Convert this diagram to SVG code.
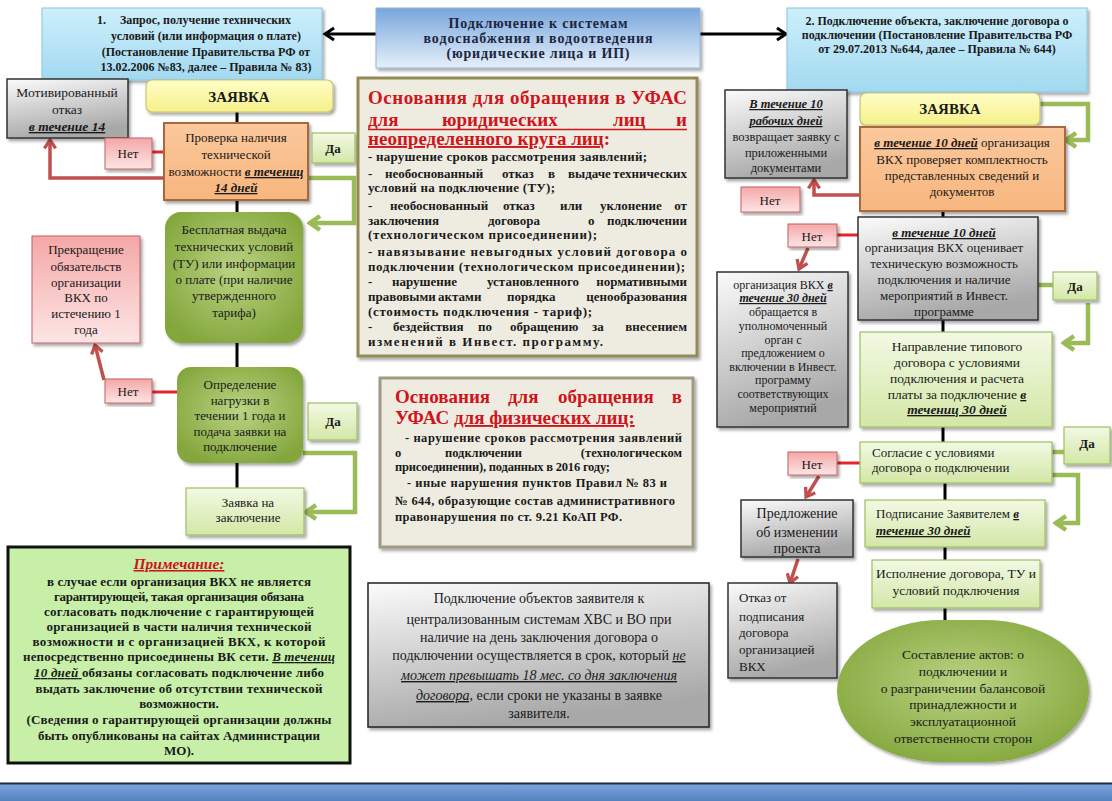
<svg xmlns="http://www.w3.org/2000/svg" width="1112" height="801" viewBox="0 0 1112 801">
<defs>
<linearGradient id="gBlue" x1="0" y1="0" x2="0" y2="1"><stop offset="0" stop-color="#cdeffb"/><stop offset="1" stop-color="#a2d9f0"/></linearGradient>
<linearGradient id="gTop" x1="0" y1="0" x2="0" y2="1"><stop offset="0" stop-color="#77a5dc"/><stop offset="1" stop-color="#e6f0fa"/></linearGradient>
<linearGradient id="gYel" x1="0" y1="0" x2="0" y2="1"><stop offset="0" stop-color="#fefec6"/><stop offset="1" stop-color="#f6f08a"/></linearGradient>
<linearGradient id="gOrg" x1="0" y1="0" x2="0" y2="1"><stop offset="0" stop-color="#fbc89c"/><stop offset="1" stop-color="#f7b67e"/></linearGradient>
<linearGradient id="gPink" x1="0" y1="0" x2="0" y2="1"><stop offset="0" stop-color="#f4a7a7"/><stop offset="1" stop-color="#fde5e5"/></linearGradient>
<linearGradient id="gLG" x1="0" y1="0" x2="0" y2="1"><stop offset="0" stop-color="#f2f9e4"/><stop offset="1" stop-color="#d3e7a6"/></linearGradient>
<radialGradient id="gDG" cx="0.5" cy="0.45" r="0.6"><stop offset="0" stop-color="#bad383"/><stop offset="1" stop-color="#84a73d"/></radialGradient>
<linearGradient id="gGray" x1="0" y1="0" x2="0.3" y2="1"><stop offset="0" stop-color="#fbfbfb"/><stop offset="1" stop-color="#a8a8a8"/></linearGradient>
<linearGradient id="gBar" x1="0" y1="0" x2="0" y2="1"><stop offset="0" stop-color="#7ba4dd"/><stop offset="1" stop-color="#5681c2"/></linearGradient>
<filter id="sh" x="-10%" y="-10%" width="125%" height="125%"><feDropShadow dx="2" dy="2.5" stdDeviation="1.5" flood-color="#000" flood-opacity="0.35"/></filter>
<marker id="ak" viewBox="0 0 16 16" refX="13" refY="8" markerWidth="16" markerHeight="16" markerUnits="userSpaceOnUse" orient="auto"><path d="M4,2 L13,8 L4,14" fill="none" stroke="#000" stroke-width="3"/></marker>
<marker id="ar" viewBox="0 0 16 16" refX="13" refY="8" markerWidth="15" markerHeight="15" markerUnits="userSpaceOnUse" orient="auto"><path d="M4,2 L13,8 L4,14" fill="none" stroke="#c0504d" stroke-width="3.5"/></marker>
<marker id="ag" viewBox="0 0 18 18" refX="15" refY="9" markerWidth="18" markerHeight="18" markerUnits="userSpaceOnUse" orient="auto"><path d="M5,2 L15,9 L5,16" fill="none" stroke="#9bbb59" stroke-width="4.5"/></marker>
<style>
.t{font-family:"Liberation Serif","Times New Roman",serif;font-size:13px;fill:#1a1a1a}
.c{text-anchor:middle}
.e{text-anchor:end}
.b{font-weight:bold}
.d{font-weight:bold;font-style:italic;text-decoration:underline}
.iu{font-style:italic;text-decoration:underline}
.u{text-decoration:underline}
.red{fill:#d0141c}
.f12{font-size:12px}
.f125{font-size:12.5px}
.f135{font-size:13.5px}
.f14{font-size:14px}
.f15{font-size:15px}
.f155{font-size:15.5px}
.f19{font-size:19px}
.bx-blue{fill:url(#gBlue);stroke:#8cc4dc;stroke-width:1;filter:url(#sh)}
.bx-top{fill:url(#gTop);stroke:#93b3d8;stroke-width:1;filter:url(#sh)}
.bx-yel{fill:url(#gYel);stroke:#c8c27a;stroke-width:1.2;filter:url(#sh)}
.bx-org{fill:url(#gOrg);stroke:#a5693a;stroke-width:2;filter:url(#sh)}
.bx-pink{fill:url(#gPink);stroke:#c46060;stroke-width:1;filter:url(#sh)}
.bx-lg{fill:url(#gLG);stroke:#9fbe62;stroke-width:1.2;filter:url(#sh)}
.bx-dg{fill:url(#gDG);filter:url(#sh)}
.bx-gray{fill:url(#gGray);stroke:#333;stroke-width:1.5;filter:url(#sh)}
.bx-ufas{fill:#eeece1;stroke:#948a54;stroke-width:3;filter:url(#sh)}
.bx-note{fill:#c7efa8;stroke:#111;stroke-width:3}
.k{stroke:#000;stroke-width:3;fill:none}
.r{stroke:#c0504d;stroke-width:3.5;fill:none}
.rr{stroke:#e3262b;stroke-width:3;fill:none}
.g{stroke:#9bbb59;stroke-width:4.5;fill:none}
</style>
</defs>
<rect width="1112" height="801" fill="#fff"/>

<g id="connectors">
<line class="k" x1="376" y1="34" x2="325" y2="34" marker-end="url(#ak)"/>
<line class="k" x1="700" y1="34" x2="786" y2="34" marker-end="url(#ak)"/>
<line class="k" x1="237" y1="112" x2="237" y2="123"/>
<line class="rr" x1="152" y1="152" x2="164" y2="152"/>
<polyline class="r" points="164,178 50,178 50,140" marker-end="url(#ar)"/>
<polyline class="g" points="308,178 354,178 354,223 310,223" marker-end="url(#ag)"/>
<line class="k" x1="237" y1="200" x2="237" y2="212"/>
<line class="k" x1="237" y1="343" x2="237" y2="367"/>
<line class="rr" x1="152" y1="392" x2="177" y2="392"/>
<line class="r" x1="104" y1="380" x2="95" y2="345" marker-end="url(#ar)"/>
<polyline class="g" points="303,453 355,453 355,512 306,512" marker-end="url(#ag)"/>
<line class="k" x1="237" y1="463" x2="237" y2="488"/>

<polyline class="g" points="1040,104 1088,104 1088,140 1066,140" marker-end="url(#ag)"/>
<polyline class="r" points="860,195 814,195 814,180" marker-end="url(#ar)"/>
<line class="k" x1="943" y1="211" x2="943" y2="218"/>
<line class="rr" x1="837" y1="235" x2="858" y2="235"/>
<line class="r" x1="808" y1="248" x2="799" y2="269" marker-end="url(#ar)"/>
<line class="g" x1="1038" y1="285" x2="1053" y2="285"/>
<polyline class="g" points="1088,303 1088,343 1064,343" marker-end="url(#ag)"/>
<line class="k" x1="943" y1="320" x2="943" y2="332"/>
<line class="k" x1="943" y1="427" x2="943" y2="442"/>
<line class="g" x1="1052" y1="452" x2="1064" y2="452"/>
<polyline class="g" points="1052,475 1078,475 1078,523 1056,523" marker-end="url(#ag)"/>
<line class="rr" x1="837" y1="463" x2="860" y2="463"/>
<line class="r" x1="819" y1="476" x2="806" y2="497" marker-end="url(#ar)"/>
<line class="k" x1="945" y1="483" x2="945" y2="500"/>
<line class="k" x1="945" y1="547" x2="945" y2="560"/>
<line class="r" x1="798" y1="559" x2="790" y2="583" marker-end="url(#ar)"/>
<line class="k" x1="945" y1="608" x2="945" y2="622"/>
</g>

<g id="n-req1">
<rect class="bx-blue" x="42" y="8" width="280" height="72"/>
<text class="t b f12"><tspan x="97" y="24">1.</tspan><tspan x="120" y="24">Запрос, получение технических</tspan></text>
<text class="t b c f12"><tspan x="206" y="40">условий (или информация о плате)</tspan><tspan x="206" y="56">(Постановление Правительства РФ от</tspan><tspan x="206" y="71">13.02.2006 №83, далее – Правила № 83)</tspan></text>
</g>

<g id="n-title">
<rect class="bx-top" x="376" y="8" width="324" height="60"/>
<g class="t b c f14" style="fill:#1d2640">
<text x="538" y="28" textLength="179" lengthAdjust="spacing">Подключение к системам</text>
<text x="538" y="43" textLength="229" lengthAdjust="spacing">водоснабжения и водоотведения</text>
<text x="538" y="58" textLength="183" lengthAdjust="spacing">(юридические лица и ИП)</text>
</g>
</g>

<g id="n-req2">
<rect class="bx-blue" x="787" y="8" width="300" height="84"/>
<text class="t b c f12"><tspan x="937" y="25">2. Подключение объекта, заключение договора о</tspan><tspan x="937" y="39">подключении (Постановление Правительства РФ</tspan><tspan x="937" y="53">от 29.07.2013 №644, далее – Правила № 644)</tspan></text>
</g>

<g id="n-refusal">
<rect class="bx-gray" x="7" y="79" width="121" height="59"/>
<text class="t c f135"><tspan x="67" y="97">Мотивированный</tspan><tspan x="67" y="114">отказ</tspan><tspan x="67" y="131" class="d">в течение 14</tspan></text>
</g>

<g id="n-zayavka1">
<rect class="bx-yel" x="146" y="80" width="187" height="32" rx="6"/>
<text class="t b c f15" x="239" y="102">ЗАЯВКА</text>
</g>

<g id="n-check">
<rect class="bx-org" x="164" y="123" width="144" height="77"/>
<text class="t c"><tspan x="236" y="142">Проверка наличия</tspan><tspan x="236" y="159">технической</tspan><tspan x="236" y="176">возможности <tspan class="d">в течениц</tspan></tspan><tspan x="236" y="192" class="d">14 дней</tspan></text>
</g>

<g id="n-net1">
<rect class="bx-pink" x="105" y="138" width="47" height="31"/>
<text class="t c" x="128" y="158">Нет</text>
</g>

<g id="n-da1">
<rect class="bx-lg" x="312" y="133" width="43" height="30"/>
<text class="t b c" x="333" y="153">Да</text>
</g>

<g id="n-free">
<rect class="bx-dg" x="165" y="212" width="138" height="131" rx="16"/>
<text class="t c"><tspan x="234" y="234">Бесплатная выдача</tspan><tspan x="234" y="251">технических условий</tspan><tspan x="234" y="268">(ТУ) или информации</tspan><tspan x="234" y="284">о плате (при наличие</tspan><tspan x="234" y="300">утвержденного</tspan><tspan x="234" y="317">тарифа)</tspan></text>
</g>

<g id="n-stop">
<rect class="bx-pink" x="32" y="236" width="108" height="107"/>
<text class="t c"><tspan x="86" y="254">Прекращение</tspan><tspan x="86" y="271">обязательств</tspan><tspan x="86" y="287">организации</tspan><tspan x="86" y="302">ВКХ по</tspan><tspan x="86" y="318">истечению 1</tspan><tspan x="86" y="334">года</tspan></text>
</g>

<g id="n-load">
<rect class="bx-dg" x="177" y="367" width="126" height="96" rx="14"/>
<text class="t c"><tspan x="240" y="389">Определение</tspan><tspan x="240" y="405">нагрузки в</tspan><tspan x="240" y="420">течении 1 года и</tspan><tspan x="240" y="436">подача заявки на</tspan><tspan x="240" y="451">подключение</tspan></text>
</g>

<g id="n-net2">
<rect class="bx-pink" x="105" y="379" width="47" height="24"/>
<text class="t c" x="128" y="396">Нет</text>
</g>

<g id="n-da2">
<rect class="bx-lg" x="308" y="403" width="49" height="37"/>
<text class="t b c" x="333" y="426">Да</text>
</g>

<g id="n-conclusion">
<rect class="bx-lg" x="186" y="488" width="118" height="47"/>
<text class="t c"><tspan x="248" y="507">Заявка на</tspan><tspan x="248" y="522">заключение</tspan></text>
</g>

<g id="n-note">
<rect class="bx-note" x="8" y="547" width="342" height="216"/>
<text class="t b c red f155" x="179" y="569"><tspan class="iu">Примечание:</tspan></text>
<g class="t b c">
<text x="179" y="586" textLength="264" lengthAdjust="spacing">в случае если организация ВКХ не является</text>
<text x="179" y="601" textLength="250" lengthAdjust="spacing">гарантирующей, такая организация обязана</text>
<text x="179" y="616" textLength="270" lengthAdjust="spacing">согласовать  подключение с гарантирующей</text>
<text x="179" y="631" textLength="265" lengthAdjust="spacing">организацией в части наличия технической</text>
<text x="179" y="646" textLength="293" lengthAdjust="spacing">возможности и с организацией ВКХ, к которой</text>
<text x="179" y="661" textLength="312" lengthAdjust="spacing">непосредственно присоединены ВК сети. <tspan class="iu">В течениц</tspan></text>
<text x="179" y="677" textLength="290" lengthAdjust="spacing"><tspan class="iu">10 дней </tspan>обязаны согласовать подключение либо</text>
<text x="179" y="693" textLength="287" lengthAdjust="spacing">выдать заключение об отсутствии технической</text>
<text x="179" y="708">возможности.</text>
<text x="179" y="724" textLength="305" lengthAdjust="spacing">(Сведения о гарантирующей организации должны</text>
<text x="179" y="740" textLength="282" lengthAdjust="spacing">быть опубликованы на сайтах Администрации</text>
<text x="179" y="755">МО).</text>
</g>
</g>

<g id="n-ufas-legal">
<rect class="bx-ufas" x="358" y="78" width="339" height="278"/>
<g class="t b red f19">
<text x="368" y="104" textLength="319" lengthAdjust="spacing">Основания для обращения в УФАС</text>
<text y="126"><tspan x="368">для</tspan><tspan x="442">юридических</tspan><tspan x="613">лиц</tspan></text>
<text class="e" x="687" y="126">и</text>
<text x="368" y="145"><tspan class="u">неопределенного круга лиц</tspan>:</text>
</g>
<line x1="368" y1="129.5" x2="687" y2="129.5" stroke="#d0141c" stroke-width="1.5"/>
<g class="t b">
<text x="368" y="161" textLength="279" lengthAdjust="spacing">- нарушение сроков рассмотрения заявлений;</text>
<text y="178"><tspan x="368">-</tspan><tspan x="385">необоснованный</tspan><tspan x="502">отказ</tspan><tspan x="548">в</tspan><tspan x="568">выдаче</tspan></text>
<text class="e" x="687" y="178">технических</text>
<text x="368" y="192" textLength="187" lengthAdjust="spacing">условий на подключение (ТУ);</text>
<text y="210"><tspan x="368">-</tspan><tspan x="390">необоснованный</tspan><tspan x="503">отказ</tspan><tspan x="560">или</tspan><tspan x="600">уклонение</tspan></text>
<text class="e" x="687" y="210">от</text>
<text y="225"><tspan x="368">заключения</tspan><tspan x="488">договора</tspan><tspan x="588">о</tspan></text>
<text class="e" x="687" y="225">подключении</text>
<text x="368" y="239" textLength="229" lengthAdjust="spacing">(технологическом присоединении);</text>
<text x="368" y="256" textLength="319" lengthAdjust="spacing">- навязывание невыгодных условий договора о</text>
<text x="368" y="271" textLength="317" lengthAdjust="spacing">подключении (технологическом присоединении);</text>
<text y="286"><tspan x="368">-</tspan><tspan x="392">нарушение</tspan><tspan x="487">установленного</tspan></text>
<text class="e" x="687" y="286">нормативными</text>
<text y="301"><tspan x="368">правовыми</tspan><tspan x="438">актами</tspan><tspan x="507">порядка</tspan></text>
<text class="e" x="687" y="301">ценообразования</text>
<text x="368" y="316" textLength="224" lengthAdjust="spacing">(стоимость подключения - тариф);</text>
<text y="331"><tspan x="368">-</tspan><tspan x="393">бездействия</tspan><tspan x="478">по</tspan><tspan x="510">обращению</tspan><tspan x="592">за</tspan></text>
<text class="e" x="687" y="331">внесением</text>
<text x="368" y="346" textLength="235" lengthAdjust="spacing">изменений в Инвест. программу.</text>
</g>
</g>

<g id="n-ufas-phys">
<rect class="bx-ufas" x="380" y="378" width="313" height="169" style="stroke:#a09a80"/>
<g class="t b red f19">
<text y="403"><tspan x="395">Основания</tspan><tspan x="508">для</tspan><tspan x="558">обращения</tspan></text>
<text class="e" x="682" y="403">в</text>
<text x="395" y="424">УФАС <tspan class="u">для физических лиц:</tspan></text>
</g>
<g class="t b f125">
<text x="405" y="442" textLength="277" lengthAdjust="spacing">-  нарушение сроков рассмотрения заявлений</text>
<text y="457"><tspan x="395">о</tspan><tspan x="445">подключении</tspan></text>
<text class="e" x="682" y="457">(технологическом</text>
<text x="395" y="471" textLength="215" lengthAdjust="spacing">присоединении), поданных в 2016 году;</text>
<text x="407" y="487" textLength="260" lengthAdjust="spacing">-  иные нарушения пунктов Правил № 83 и</text>
<text x="395" y="505" textLength="280" lengthAdjust="spacing">№ 644, образующие состав административного</text>
<text x="395" y="521" textLength="227" lengthAdjust="spacing">правонарушения по ст. 9.21 КоАП РФ.</text>
</g>
</g>

<g id="n-term">
<rect class="bx-gray" x="368" y="583" width="341" height="144" style="stroke:#222"/>
<text class="t c f14"><tspan x="539" y="603">Подключение объектов заявителя к</tspan><tspan x="539" y="624">централизованным системам ХВС и ВО при</tspan><tspan x="539" y="642">наличие на день заключения договора о</tspan><tspan x="539" y="660">подключении осуществляется в срок, который <tspan class="iu">не</tspan></tspan><tspan x="539" y="680" class="iu">может превышать 18 мес. со дня заключения</tspan><tspan x="539" y="700"><tspan class="iu">договора,</tspan> если сроки не указаны в заявке</tspan><tspan x="539" y="718">заявителя.</tspan></text>
</g>

<g id="n-return">
<rect class="bx-gray" x="725" y="90" width="122" height="88"/>
<text class="t c f125"><tspan x="786" y="108" class="d">В течение 10</tspan><tspan x="786" y="125" class="d">рабочих дней</tspan><tspan x="786" y="141">возвращает заявку с</tspan><tspan x="786" y="157">приложенными</tspan><tspan x="786" y="172">документами</tspan></text>
</g>

<g id="n-zayavka2">
<rect class="bx-yel" x="860" y="93" width="180" height="32" rx="6"/>
<text class="t b c f15" x="950" y="114">ЗАЯВКА</text>
</g>

<g id="n-complete">
<rect class="bx-org" x="860" y="127" width="205" height="84"/>
<text class="t c"><tspan x="962" y="147"><tspan class="d">в течение 10 дней</tspan> организация</tspan><tspan x="962" y="164">ВКХ проверяет комплектность</tspan><tspan x="962" y="180">представленных сведений и</tspan><tspan x="962" y="196">документов</tspan></text>
</g>

<g id="n-net-r1">
<rect class="bx-pink" x="741" y="187" width="59" height="25"/>
<text class="t c" x="770" y="205">Нет</text>
</g>

<g id="n-assess">
<rect class="bx-gray" x="858" y="217" width="180" height="103"/>
<text class="t c"><tspan x="944" y="237" class="d">в течение 10 дней</tspan><tspan x="944" y="252">организация ВКХ оценивает</tspan><tspan x="944" y="268">техническую возможность</tspan><tspan x="944" y="284">подключения и наличие</tspan><tspan x="944" y="300">мероприятий в Инвест.</tspan><tspan x="944" y="316">программе</tspan></text>
</g>

<g id="n-net-r2">
<rect class="bx-pink" x="788" y="224" width="49" height="23"/>
<text class="t c" x="812" y="241">Нет</text>
</g>

<g id="n-invest">
<rect class="bx-gray" x="717" y="272" width="131" height="155"/>
<text class="t c f12"><tspan x="783" y="289">организация ВКХ <tspan class="d">в</tspan></tspan><tspan x="783" y="302" class="d">течение 30 дней</tspan><tspan x="783" y="316">обращается в</tspan><tspan x="783" y="330">уполномоченный</tspan><tspan x="783" y="344">орган с</tspan><tspan x="783" y="357">предложением о</tspan><tspan x="783" y="371">включении в Инвест.</tspan><tspan x="783" y="384">программу</tspan><tspan x="783" y="398">соответствующих</tspan><tspan x="783" y="412">мероприятий</tspan></text>
</g>

<g id="n-da-r1">
<rect class="bx-lg" x="1053" y="272" width="44" height="28"/>
<text class="t b c" x="1075" y="291">Да</text>
</g>

<g id="n-contract">
<rect class="bx-lg" x="860" y="332" width="192" height="95"/>
<text class="t c f135"><tspan x="957" y="351">Направление типового</tspan><tspan x="957" y="367">договора с условиями</tspan><tspan x="957" y="383">подключения и расчета</tspan><tspan x="957" y="399">платы за подключение <tspan class="d">в</tspan></tspan><tspan x="957" y="414" class="d">течениц 30 дней</tspan></text>
</g>

<g id="n-agree">
<rect class="bx-lg" x="860" y="442" width="192" height="41"/>
<text class="t"><tspan x="872" y="457">Согласие с условиями</tspan><tspan x="872" y="472">договора о подключении</tspan></text>
</g>

<g id="n-da-r2">
<rect class="bx-lg" x="1064" y="427" width="46" height="37"/>
<text class="t b c" x="1087" y="448">Да</text>
</g>

<g id="n-net-r3">
<rect class="bx-pink" x="788" y="452" width="49" height="23"/>
<text class="t c" x="812" y="469">Нет</text>
</g>

<g id="n-proposal">
<rect class="bx-gray" x="741" y="500" width="112" height="57"/>
<text class="t c f14"><tspan x="797" y="518">Предложение</tspan><tspan x="797" y="537">об изменении</tspan><tspan x="797" y="553">проекта</tspan></text>
</g>

<g id="n-sign">
<rect class="bx-lg" x="865" y="500" width="180" height="47"/>
<text class="t"><tspan x="876" y="518">Подписание Заявителем <tspan class="d">в</tspan></tspan><tspan x="876" y="535" class="d">течение 30 дней</tspan></text>
</g>

<g id="n-exec">
<rect class="bx-lg" x="872" y="560" width="168" height="48"/>
<text class="t c f135"><tspan x="956" y="578">Исполнение договора, ТУ и</tspan><tspan x="956" y="595">условий подключения</tspan></text>
</g>

<g id="n-reject">
<rect class="bx-gray" x="728" y="583" width="109" height="95"/>
<text class="t"><tspan x="739" y="602">Отказ от</tspan><tspan x="739" y="621">подписания</tspan><tspan x="739" y="637">договора</tspan><tspan x="739" y="654">организацией</tspan><tspan x="739" y="671">ВКХ</tspan></text>
</g>

<g id="n-acts">
<rect class="bx-dg" x="837" y="620" width="252" height="142" rx="105" ry="71"/>
<text class="t c f135"><tspan x="963" y="659">Составление актов: о</tspan><tspan x="963" y="676">подключении и</tspan><tspan x="963" y="693">о разграничении балансовой</tspan><tspan x="963" y="709">принадлежности и</tspan><tspan x="963" y="726">эксплуатационной</tspan><tspan x="963" y="743">ответственности сторон</tspan></text>
</g>

<g id="bottom-bar">
<rect x="0" y="784" width="1112" height="17" fill="url(#gBar)"/>
<line x1="0" y1="783.5" x2="1112" y2="783.5" stroke="#1e2a3c" stroke-width="2"/>
</g>
</svg>
